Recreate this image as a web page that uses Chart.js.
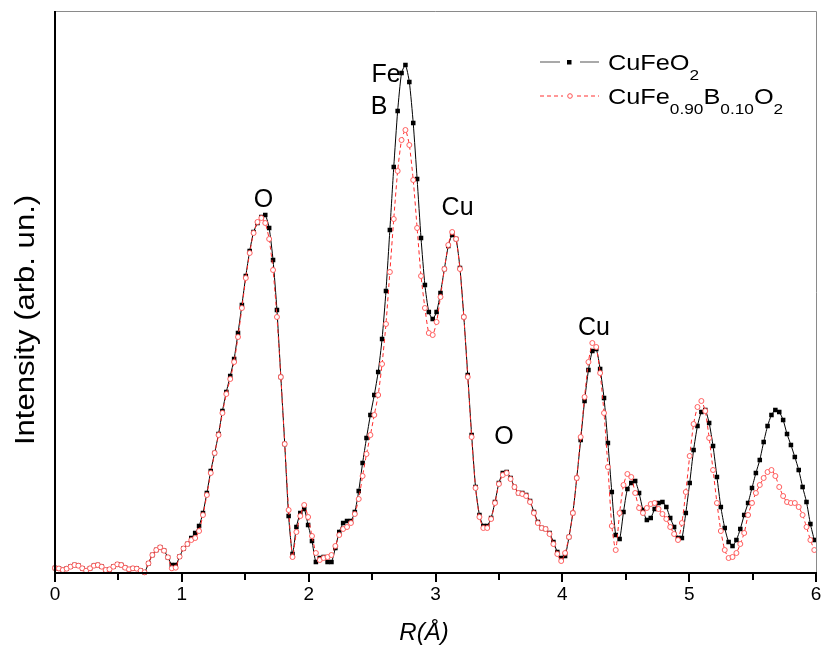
<!DOCTYPE html>
<html><head><meta charset="utf-8">
<script src="https://cdn.jsdelivr.net/npm/chart.js@4.4.0/dist/chart.umd.min.js"></script>
<style>html,body{margin:0;padding:0;background:#fff;}canvas{display:block;}</style>
</head><body>
<canvas id="c" width="824" height="646"></canvas>
<script>
// R grid step (Å) of the Fourier transform
const rStep = 0.0307;

// CuFeO2 (black squares)
const cufeo2 = [5,4.5,3,4.3,6.3,8,7.3,4.7,2.3,4.7,7.3,8,6.3,3,3.7,6.3,8.7,8,5.3,3.7,
4.7,4.3,2.3,0.7,9.7,18,23,25.7,22.3,15.7,8,8,16.3,24.5,29,35,40,47,60,
80,102,120,139,162,181,197,214,240,268,297,322,341,
350,356,358,345,313,263,196,129,
57,19,46,60,64,48,32,11,15,16,11,11,25,
41,50,52,52,61,82,110,135,158,178,201,234,282,343,406,462,500,508,491,450,394,335,288,261,254,261,280,
304,327,338,334,305,256,198,138,86,58,47,47,55,71,90,100,101,95,86,80,80,78,72,61,51,45,44,40,31,21,15,17,
36,60,95,133,172,203,222,224,204,175,130,81,38,34,61,84,90,92,80,63,53,55,64,70,71,66,55,46,35,35,
60,90,123,147,161,163,150,127,96,66,45,31,27,33,44,58,70,85,100,113,131,147,158,163,161,153,139,128,116,103,86,71,49,33];

// CuFe0.90B0.10O2 (red open circles)
const cufeb = [5,4.5,3,4.3,6.3,8,7.3,4.7,2.3,4.7,7.3,8,6.3,3,3.7,6.3,8.7,8,5.3,3.7,
4.7,4.3,2.3,0.7,9.7,18,23,25.7,22.3,15.7,4.7,5.3,16.3,24.5,29,33,35,42,58,
78,100,120,138,160,179,194,211,236,265,295,320,340,
351,355,350,334,303,256,196,129,
63,16,41,57,68,56,37,20,13,15,16,18,27,
38,44,46,50,59,74,97,119,138,158,178,209,249,301,354,402,433,443,428,393,345,297,265,240,238,251,276,
304,328,341,334,304,256,196,136,85,56,45,45,54,70,89,98,100,94,86,80,79,77,71,60,50,45,44,39,29,19,12,20,
36,60,95,136,176,211,230,226,200,160,106,47,23,60,88,99,96,80,65,60,65,69,70,64,59,54,46,39,33,50,
81,117,149,166,172,162,135,103,70,42,23,15,16,20,29,40,58,70,80,88,95,101,103,97,86,77,71,70,70,66,58,46,33,23];

const xTicks = [0,1,2,3,4,5,6];
const xMinorTicks = [0.5,1.5,2.5,3.5,4.5,5.5];
const xTitle = 'R(Å)';
const yTitle = 'Intensity (arb. un.)';
const peakNames = ['O','Fe','B','Cu','O','Cu'];
const peakR = [1.644,2.61,2.555,3.174,3.54,4.25];
const peakI = [366,491,459,358,129,238];

const F = '"Liberation Sans", Arial, sans-serif';

const decor = {
  id:'decor',
  afterDatasetsDraw(chart){
    const ctx = chart.ctx, ca = chart.chartArea, xs = chart.scales.x, ys = chart.scales.y;
    ctx.save();
    // frame
    ctx.strokeStyle = '#8a8a8a'; ctx.lineWidth = 1;
    ctx.beginPath();
    ctx.moveTo(ca.left, ca.top + 0.5); ctx.lineTo(ca.right + 0.5, ca.top + 0.5); ctx.lineTo(ca.right + 0.5, ca.bottom);
    ctx.stroke();
    ctx.strokeStyle = '#000'; ctx.lineWidth = 2;
    ctx.beginPath();
    ctx.moveTo(ca.left, ca.top); ctx.lineTo(ca.left, ca.bottom); ctx.lineTo(ca.right + 1, ca.bottom);
    ctx.stroke();
    // ticks
    ctx.lineWidth = 2;
    xTicks.forEach(t => {
      const p = Math.round(xs.getPixelForValue(t));
      ctx.beginPath(); ctx.moveTo(p, ca.bottom); ctx.lineTo(p, ca.bottom + 9); ctx.stroke();
    });
    xMinorTicks.forEach(t => {
      const p = Math.round(xs.getPixelForValue(t));
      ctx.beginPath(); ctx.moveTo(p, ca.bottom); ctx.lineTo(p, ca.bottom + 7); ctx.stroke();
    });
    ctx.fillStyle = '#000';
    ctx.font = '19px ' + F; ctx.textAlign = 'center'; ctx.textBaseline = 'alphabetic';
    xTicks.forEach(t => ctx.fillText(String(t), xs.getPixelForValue(t), ca.bottom + 27));
    // axis titles
    ctx.font = 'italic 24px ' + F;
    ctx.fillText(xTitle, 424, ca.bottom + 67);
    ctx.save();
    ctx.translate(27, 320); ctx.rotate(-Math.PI / 2); ctx.scale(1.15, 1);
    ctx.font = '27px ' + F; ctx.textBaseline = 'middle';
    ctx.fillText(yTitle, 0, 0);
    ctx.restore();
    // peak labels
    ctx.font = '25px ' + F; ctx.textBaseline = 'alphabetic'; ctx.textAlign = 'center';
    peakNames.forEach((n, i) => ctx.fillText(n, xs.getPixelForValue(peakR[i]), ys.getPixelForValue(peakI[i])));
    // legend
    const lx0 = 540, lx1 = 599, lmid = 569;
    let y1 = 62;
    ctx.strokeStyle = '#555'; ctx.lineWidth = 1.2; ctx.setLineDash([]);
    ctx.beginPath(); ctx.moveTo(lx0, y1); ctx.lineTo(lmid - 9, y1); ctx.moveTo(lmid + 11, y1); ctx.lineTo(lx1, y1); ctx.stroke();
    ctx.fillStyle = '#000'; ctx.fillRect(lmid - 2, y1 - 2, 4.5, 4.5);
    let y2 = 96;
    ctx.strokeStyle = '#ff3030'; ctx.lineWidth = 1; ctx.setLineDash([4, 3]);
    ctx.beginPath(); ctx.moveTo(lx0, y2); ctx.lineTo(lmid - 6, y2); ctx.moveTo(lmid + 8, y2); ctx.lineTo(lx1, y2); ctx.stroke();
    ctx.setLineDash([]);
    ctx.strokeStyle = '#ff5050'; ctx.fillStyle = '#fff';
    ctx.beginPath(); ctx.arc(lmid + 1, y2, 2.3, 0, Math.PI * 2); ctx.fill(); ctx.stroke();
    const drawParts = (parts, x, base) => {
      ctx.save();
      ctx.translate(x, 0); ctx.scale(1.15, 1);
      let cx = 0;
      ctx.fillStyle = '#000'; ctx.textAlign = 'left'; ctx.textBaseline = 'alphabetic';
      parts.forEach(([txt, sub]) => {
        ctx.font = (sub ? '15px ' : '22px ') + F;
        ctx.fillText(txt, cx, base + (sub ? 10 : 0));
        cx += ctx.measureText(txt).width;
      });
      ctx.restore();
    };
    drawParts([['CuFeO', 0], ['2', 1]], 608, 70);
    drawParts([['CuFe', 0], ['0.90', 1], ['B', 0], ['0.10', 1], ['O', 0], ['2', 1]], 608, 104);
    ctx.restore();
  }
};

new Chart(document.getElementById('c').getContext('2d'), {
  type: 'line',
  data: {
    datasets: [
      {
        label: 'CuFe0.90B0.10O2',
        data: cufeb.map((v, i) => ({x: i * rStep, y: v})),
        borderColor: '#ff2a2a', borderWidth: 1, borderDash: [4, 3],
        pointStyle: 'circle', pointRadius: 2.5, pointBorderWidth: 0.9,
        pointBorderColor: '#ff5050', pointBackgroundColor: '#ffffff',
        tension: 0.2, order: 0, clip: false
      },
      {
        label: 'CuFeO2',
        data: cufeo2.map((v, i) => ({x: i * rStep, y: v})),
        borderColor: '#000', borderWidth: 1,
        pointStyle: 'rect', pointRadius: 3.2, pointBorderWidth: 0,
        pointBackgroundColor: '#000', pointBorderColor: '#000',
        tension: 0.2, order: 1, clip: false
      }
    ]
  },
  options: {
    responsive: false, animation: false, devicePixelRatio: 1, events: [],
    layout: {padding: {left: 55, right: 8, top: 11, bottom: 73}},
    plugins: {legend: {display: false}, tooltip: {enabled: false}},
    scales: {
      x: {type: 'linear', min: 0, max: 6, display: false},
      y: {type: 'linear', min: 0, max: 562, display: false}
    }
  },
  plugins: [decor]
});
</script>
</body></html>
